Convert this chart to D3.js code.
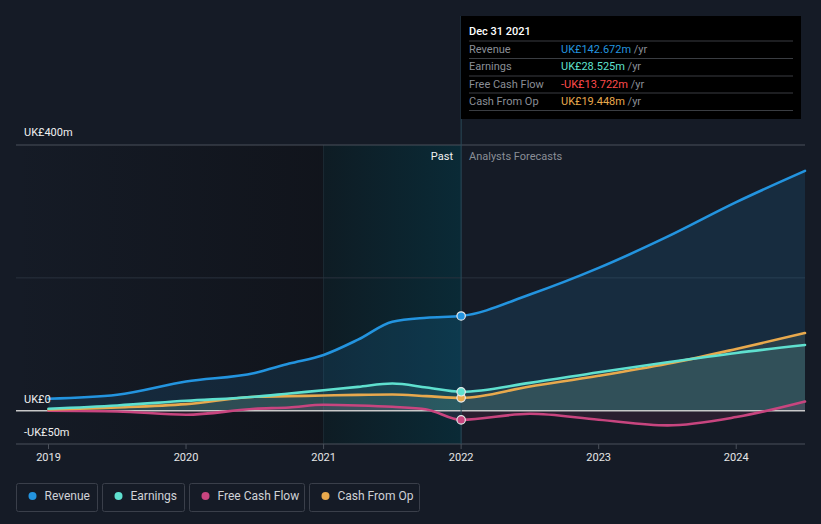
<!DOCTYPE html>
<html><head><meta charset="utf-8">
<script src="https://cdn.jsdelivr.net/npm/d3@7/dist/d3.min.js"></script>
<style>
html,body{margin:0;padding:0;background:#151b26;}
svg{display:block;font-family:Roboto,"Noto Sans",sans-serif;}
</style></head><body>
<svg id="c" width="821" height="524"></svg>
<script>
const years = [2019,2019.5,2020,2020.5,2020.75,2021,2021.25,2021.5,2021.75,2022,2022.5,2023,2023.5,2024,2024.5];
const revenue  = [18,24,44,57,71,84,107,134,140,142.672,175,215,262,314,361];
const earnings = [3,8,15,21,26,31,36,41,35,28.525,42,58,73,87,99];
const fcf      = [0,-1,-6,3,5,9,8,6,2,-13.722,-4.5,-13.5,-22,-9.5,14];
const cfo      = [2,5,10,21,22,23,24,24.5,22,19.448,36.5,52.6,70.7,93,117];
const xTicks = [2019,2020,2021,2022,2023,2024];
const yTicks = [{v:400,t:"UK£400m"},{v:0,t:"UK£0"},{v:-50,t:"-UK£50m"}];
const legendItems = [["Revenue","#2394df"],["Earnings","#5fe0cf"],["Free Cash Flow","#c8457f"],["Cash From Op","#e8a94d"]];
const tipRows = [["Revenue","UK£142.672m","#2394df"],["Earnings","UK£28.525m","#5fe0cf"],["Free Cash Flow","-UK£13.722m","#ff4b4b"],["Cash From Op","UK£19.448m","#e8a94d"]];

const svg = d3.select("#c");
const x = d3.scaleLinear().domain([2019,2024.5]).range([48.5,805]);
const y = d3.scaleLinear().domain([-50,400]).range([444,145]);
const defs = svg.append("defs");

// past darker gradient
const g1 = defs.append("linearGradient").attr("id","pastG").attr("x1","0").attr("x2","1");
g1.append("stop").attr("offset","0").attr("stop-color","#10131a").attr("stop-opacity",0);
g1.append("stop").attr("offset","1").attr("stop-color","#10131a").attr("stop-opacity",0.85);
const g2 = defs.append("linearGradient").attr("id","hlG").attr("x1","0").attr("x2","1");
g2.append("stop").attr("offset","0").attr("stop-color","#0e1c24").attr("stop-opacity",1);
g2.append("stop").attr("offset","1").attr("stop-color","#0a2a36").attr("stop-opacity",1);

svg.append("rect").attr("x",16).attr("y",145).attr("width",x(2021)-16).attr("height",444-145).attr("fill","url(#pastG)");
svg.append("rect").attr("x",x(2021)).attr("y",145).attr("width",x(2022)-x(2021)).attr("height",444-145).attr("fill","url(#hlG)");
svg.append("line").attr("x1",x(2021)).attr("x2",x(2021)).attr("y1",145).attr("y2",444).attr("stroke","#1c2a33").attr("stroke-width",1);

// gridlines
svg.append("line").attr("x1",16).attr("x2",805).attr("y1",y(200)).attr("y2",y(200)).attr("stroke","#2a323d").attr("stroke-width",1);
svg.append("line").attr("x1",16).attr("x2",805).attr("y1",y(400)).attr("y2",y(400)).attr("stroke","#4a505a").attr("stroke-width",1);

const curve = d3.curveMonotoneX;
const zip = arr => years.map((yr,i)=>[yr,arr[i]]);
const area = d3.area().x(d=>x(d[0])).y0(y(0)).y1(d=>y(d[1])).curve(curve);
const line = d3.line().x(d=>x(d[0])).y(d=>y(d[1])).curve(curve);

svg.append("path").attr("d",area(zip(revenue))).attr("fill","#2394df").attr("fill-opacity",0.14);
svg.append("path").attr("d",area(zip(cfo))).attr("fill","#a9c4a0").attr("fill-opacity",0.12);
svg.append("path").attr("d",area(zip(earnings))).attr("fill","#6fd8c8").attr("fill-opacity",0.12);
svg.append("path").attr("d",area(zip(fcf))).attr("fill","#c8457f").attr("fill-opacity",0.12);

// zero line
svg.append("line").attr("x1",16).attr("x2",805).attr("y1",y(0)).attr("y2",y(0)).attr("stroke","#c8c8c8").attr("stroke-width",1.5);
// bottom axis line
svg.append("line").attr("x1",16).attr("x2",805).attr("y1",444).attr("y2",444).attr("stroke","#4a505a").attr("stroke-width",1.2);

const series = [[fcf,"#c8457f"],[cfo,"#e8a94d"],[earnings,"#5fe0cf"],[revenue,"#2394df"]];
series.forEach(([arr,c])=>{
  svg.append("path").attr("d",line(zip(arr))).attr("fill","none").attr("stroke",c).attr("stroke-width",2.6).attr("stroke-linecap","round");
});

// current marker line
svg.append("line").attr("x1",x(2022)).attr("x2",x(2022)).attr("y1",16).attr("y2",444).attr("stroke","#2a4a58").attr("stroke-width",1);

const idx = years.indexOf(2022);
series.forEach(([arr,c])=>{
  svg.append("circle").attr("cx",x(2022)).attr("cy",y(arr[idx])).attr("r",4.2).attr("fill",c).attr("stroke","#e8e8e8").attr("stroke-width",1.2);
});

// x axis ticks
const xa = svg.append("g");
xTicks.forEach(t=>{
  xa.append("line").attr("x1",x(t)).attr("x2",x(t)).attr("y1",444).attr("y2",449).attr("stroke","#4a505a");
  xa.append("text").attr("x",x(t)).attr("y",461).attr("text-anchor","middle").attr("fill","#e6e6e6").attr("font-size",11).text(t);
});
// y labels
const yPos = {400:136,0:403,"-50":436};
yTicks.forEach(d=>{
  svg.append("text").attr("x",24).attr("y",yPos[d.v]).attr("fill","#f0f0f0").attr("font-size",11).text(d.t);
});

svg.append("text").attr("x",453).attr("y",160).attr("text-anchor","end").attr("fill","#f0f0f0").attr("font-size",11).text("Past");
svg.append("text").attr("x",469).attr("y",160).attr("fill","#8a8e96").attr("font-size",11).text("Analysts Forecasts");

// tooltip
const tip = svg.append("g");
tip.append("rect").attr("x",461).attr("y",16).attr("width",340).attr("height",103).attr("fill","#000000");
tip.append("text").attr("x",469).attr("y",35).attr("fill","#ffffff").attr("font-size",11).attr("font-weight",500).text("Dec 31 2021");
[41,58.5,76,93,110.5].forEach(yy=>tip.append("line").attr("x1",469).attr("x2",793).attr("y1",yy).attr("y2",yy).attr("stroke","#3a3d42").attr("stroke-width",1));
tipRows.forEach((r,i)=>{
  const yy = 53 + i*17.4;
  tip.append("text").attr("x",469).attr("y",yy).attr("fill","#8a8e96").attr("font-size",11).text(r[0]);
  const t = tip.append("text").attr("x",561).attr("y",yy).attr("font-size",11);
  t.append("tspan").attr("fill",r[2]).text(r[1]);
  t.append("tspan").attr("fill","#8a8e96").text(" /yr");
});

// legend
const widths = [81,82,115,110];
let lx = 16.5;
legendItems.forEach((it,i)=>{
  const g = svg.append("g").attr("transform",`translate(${lx},483.5)`);
  g.append("rect").attr("width",widths[i]).attr("height",28).attr("rx",2).attr("fill","none").attr("stroke","#3a3f4a");
  g.append("circle").attr("cx",16).attr("cy",12.5).attr("r",4).attr("fill",it[1]);
  g.append("text").attr("x",28).attr("y",16.5).attr("fill","#d0d2d6").attr("font-size",12).text(it[0]);
  lx += widths[i] + 5;
});
</script>
</body></html>
